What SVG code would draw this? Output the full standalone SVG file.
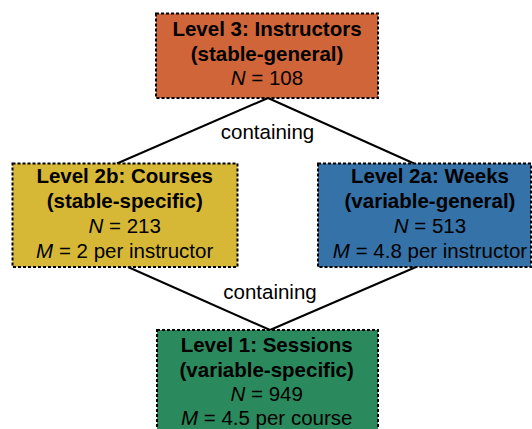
<svg xmlns="http://www.w3.org/2000/svg" width="532" height="429" viewBox="0 0 532 429">
<style>
.box{stroke:#000;stroke-width:2;stroke-dasharray:3 2}
.t{font-family:"Liberation Sans",Arial,sans-serif;font-size:20.5px;fill:#000;text-anchor:middle}
.b{font-weight:bold}
.conn{stroke:#000;stroke-width:2;fill:none}
</style>
<rect width="532" height="429" fill="#fff"/>
<g id="connectors">
<line class="conn" x1="268" y1="98" x2="117" y2="163.5"/>
<line class="conn" x1="268" y1="98" x2="414" y2="163.5"/>
<line class="conn" x1="128" y1="267" x2="270" y2="330"/>
<line class="conn" x1="416" y1="267" x2="270" y2="330"/>
<text class="t" x="267.5" y="139">containing</text>
<text class="t" x="270" y="299">containing</text>
</g>
<g id="level3">
<rect class="box" x="156" y="13.5" width="222" height="84.5" fill="#D0653A"/>
<text class="t b" x="267" y="36">Level 3: Instructors</text>
<text class="t b" x="267" y="60.5">(stable-general)</text>
<text class="t" x="267" y="84.5"><tspan font-style="italic">N</tspan> = 108</text>
</g>
<g id="level2b">
<rect class="box" x="12.5" y="163.5" width="225" height="103.5" fill="#D7B836"/>
<text class="t b" x="124.7" y="183.3">Level 2b: Courses</text>
<text class="t b" x="124.7" y="208.3">(stable-specific)</text>
<text class="t" x="124.7" y="233.3"><tspan font-style="italic">N</tspan> = 213</text>
<text class="t" x="124.7" y="258.3"><tspan font-style="italic">M</tspan> = 2 per instructor</text>
</g>
<g id="level2a">
<rect class="box" x="318" y="163.5" width="213" height="103.5" fill="#3572A8"/>
<text class="t b" x="430" y="183.3">Level 2a: Weeks</text>
<text class="t b" x="430" y="208.3">(variable-general)</text>
<text class="t" x="430" y="233.3"><tspan font-style="italic">N</tspan> = 513</text>
<text class="t" x="430" y="258.3"><tspan font-style="italic">M</tspan> = 4.8 per instructor</text>
</g>
<g id="level1">
<rect class="box" x="157" y="330" width="221" height="105" fill="#2A8A5D"/>
<text class="t b" x="266.7" y="351.7">Level 1: Sessions</text>
<text class="t b" x="266.7" y="376.7">(variable-specific)</text>
<text class="t" x="266.7" y="400.5"><tspan font-style="italic">N</tspan> = 949</text>
<text class="t" x="266.7" y="425"><tspan font-style="italic">M</tspan> = 4.5 per course</text>
</g>
</svg>
